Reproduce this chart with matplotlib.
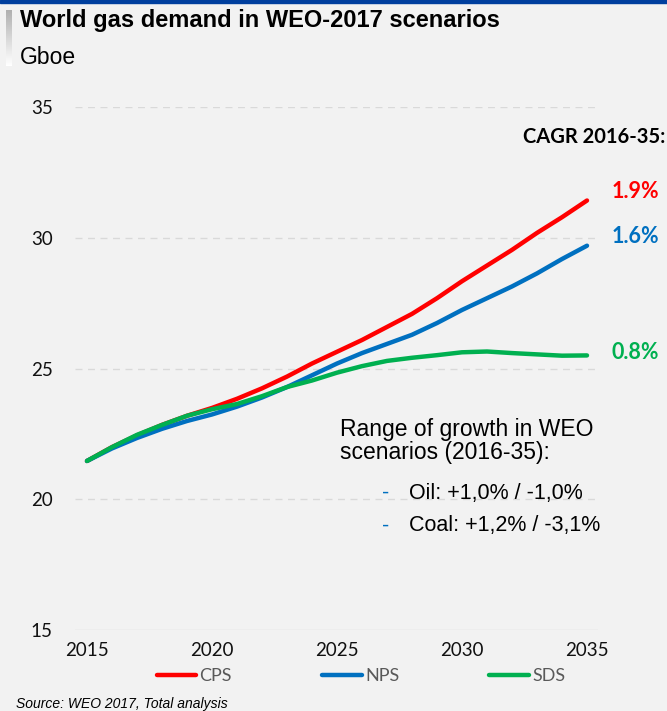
import numpy as np
import matplotlib
matplotlib.use("Agg")
import matplotlib.pyplot as plt
from matplotlib.lines import Line2D

# Data (Gboe)
years = list(range(2015, 2036))
cps = [21.47, 22.0, 22.45, 22.85, 23.2, 23.5, 23.85, 24.25, 24.7, 25.2, 25.65,
       26.1, 26.6, 27.1, 27.7, 28.35, 28.95, 29.55, 30.2, 30.8, 31.44]
nps = [21.47, 21.95, 22.35, 22.7, 23.0, 23.25, 23.55, 23.9, 24.3, 24.75, 25.2,
       25.6, 25.95, 26.3, 26.75, 27.25, 27.7, 28.15, 28.65, 29.2, 29.71]
sds = [21.47, 22.0, 22.47, 22.85, 23.2, 23.45, 23.65, 23.95, 24.3, 24.55, 24.85,
       25.1, 25.3, 25.42, 25.52, 25.63, 25.66, 25.6, 25.55, 25.5, 25.51]
series_names = ["CPS", "NPS", "SDS"]
cagr_labels = ["1.9%", "1.6%", "0.8%"]
x_ticks = [2015, 2020, 2025, 2030, 2035]
y_ticks = [15, 20, 25, 30, 35]

colors = ["#ff0000", "#0070c0", "#00b050"]
label_offsets = [0.33, 0.37, 0.1]  # vertical nudge of the end labels
bg = "#f2f2f2"

fig = plt.figure(figsize=(6.67, 7.11), dpi=100, facecolor=bg)
ax = fig.add_axes([75 / 667, 1 - 630 / 711, 523 / 667, 522.5 / 711])
ax.set_facecolor(bg)

for vals, c in zip([cps, nps, sds], colors):
    ax.plot(years, vals, color=c, lw=3.2, solid_capstyle="round", solid_joinstyle="round")

ax.set_xlim(2014.52, 2035.44)
ax.set_ylim(15, 35)
ax.set_xticks(x_ticks)
ax.set_yticks(y_ticks)
ax.tick_params(length=0, labelsize=13.5, colors="#111111")
ax.tick_params(axis="x", pad=9)
ax.tick_params(axis="y", pad=16)
for lab in ax.get_xticklabels() + ax.get_yticklabels():
    lab.set_family("Lato")
for s in ax.spines.values():
    s.set_visible(False)
for yv in y_ticks[1:]:
    ax.axhline(yv, color="#d9d9d9", lw=1, ls=(0, (5, 4)), zorder=0)
ax.axhline(15, color="#d9d9d9", lw=1, zorder=0)

# CAGR labels at line ends
fig.text(665 / 667, 1 - 137 / 711, "CAGR 2016-35:", ha="right", va="center",
         fontsize=14.5, fontweight="bold", family="Lato")
for vals, c, lab, off in zip([cps, nps, sds], colors, cagr_labels, label_offsets):
    ax.text(2036.0, vals[-1] + off, lab, color=c, fontsize=15.5, fontweight="bold",
            family="Lato", va="center", ha="left", clip_on=False)

# Title block
fig.add_artist(plt.Rectangle((0, 1 - 3 / 711), 1, 3 / 711, color="#003f9e",
                             transform=fig.transFigure))
grad = np.linspace(0, 1, 50).reshape(-1, 1)
gax = fig.add_axes([6 / 667, 1 - 66 / 711, 6 / 667, 56 / 711])
gax.imshow(grad, aspect="auto", cmap=matplotlib.colors.LinearSegmentedColormap.from_list(
    "g", ["#b0b0b0", "#ffffff"]))
gax.axis("off")
fig.text(20 / 667, 1 - 20 / 711, "World gas demand in WEO-2017 scenarios",
         fontsize=17, fontweight="bold", family="Liberation Sans", va="center")
fig.text(20 / 667, 1 - 57 / 711, "Gboe", fontsize=16.5, family="Liberation Sans",
         va="center")

# Note box
fig.text(340 / 667, 1 - 441 / 711, "Range of growth in WEO\nscenarios (2016-35):",
         fontsize=16.5, family="Liberation Sans", va="center", linespacing=0.95)
for yy, txt in [(493, "Oil: +1,0% / -1,0%"), (526, "Coal: +1,2% / -3,1%")]:
    fig.text(382 / 667, 1 - yy / 711, "-", color="#0070c0", fontsize=15.5,
             family="Liberation Sans", va="center")
    fig.text(409 / 667, 1 - yy / 711, txt, fontsize=15.5, family="Liberation Sans",
             va="center")

# Legend
handles = [Line2D([], [], color=c, lw=3.2, solid_capstyle="round") for c in colors]
leg = fig.legend(handles, series_names, loc="center", ncol=3,
                 bbox_to_anchor=(361 / 667, 1 - 676 / 711), frameon=False,
                 handlelength=2.2, handletextpad=0.17, columnspacing=5.0,
                 prop={"family": "Lato", "size": 13})
for t in leg.get_texts():
    t.set_color("#595959")

fig.text(16 / 667, 1 - 704 / 711, "Source: WEO 2017, Total analysis", fontsize=10,
         style="italic", family="Liberation Sans", va="center")

fig.savefig("out.png", dpi=100, facecolor=bg)
